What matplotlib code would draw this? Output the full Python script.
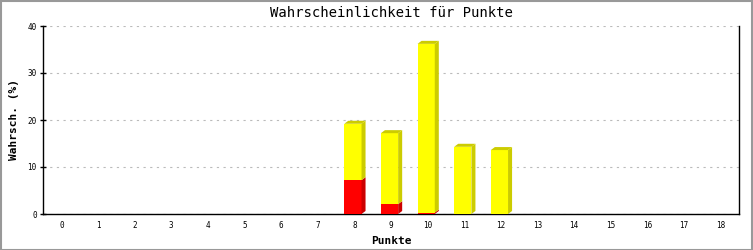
import matplotlib
matplotlib.use("Agg")
import matplotlib.pyplot as plt
from matplotlib.patches import Polygon, Rectangle

categories = list(range(19))
red_vals = [0, 0, 0, 0, 0, 0, 0, 0, 7.2, 2.1, 0.3, 0, 0, 0, 0, 0, 0, 0, 0]
yellow_vals = [0, 0, 0, 0, 0, 0, 0, 0, 12.0, 15.1, 35.9, 14.3, 13.6, 0, 0, 0, 0, 0, 0]
title = "Wahrscheinlichkeit für Punkte"
xlabel = "Punkte"
ylabel = "Wahrsch. (%)"

font = "DejaVu Sans Mono"
fig = plt.figure(figsize=(7.53, 2.50), dpi=100)
ax = fig.add_axes([43/753, 36/250, 696/753, 188/250])
ax.set_xlim(-0.5, 18.5)
ax.set_ylim(0, 40)

bw = 0.47
dx = 0.11
dy = 0.64
xoff = -0.04

def draw_seg(x, y0, h, front, side, top_face):
    if h <= 0:
        return
    l = x - bw/2 + xoff
    r = l + bw
    ax.add_patch(Rectangle((l, y0), bw, h, facecolor=front, edgecolor="none", zorder=3))
    ax.add_patch(Polygon([(r, y0), (r + dx, y0 + dy), (r + dx, y0 + h + dy), (r, y0 + h)],
                         closed=True, facecolor=side, edgecolor="none", zorder=3))
    if top_face:
        ax.add_patch(Polygon([(l, y0 + h), (l + dx, y0 + h + dy), (r + dx, y0 + h + dy), (r, y0 + h)],
                             closed=True, facecolor=side, edgecolor="none", zorder=3))

for c, rv, yv in zip(categories, red_vals, yellow_vals):
    draw_seg(c, 0, rv, "#ff0000", "#cc0000", yv <= 0)
    draw_seg(c, rv, yv, "#ffff00", "#cccc00", True)

ax.set_yticks([0, 10, 20, 30, 40])
ax.yaxis.grid(True, linestyle=(0, (2, 4)), color="#bbbbbb", linewidth=0.8)
ax.set_axisbelow(True)
ax.set_xticks(categories)
ax.set_xticklabels([str(c) for c in categories], fontsize=5.5, family=font)
ax.tick_params(axis="x", length=0, pad=5)
ax.tick_params(axis="y", length=5, direction="inout", width=1, pad=2)
for lab in ax.get_yticklabels():
    lab.set_fontsize(5.5)
    lab.set_family(font)
ax.spines["top"].set_visible(False)
for s in ["left", "right", "bottom"]:
    ax.spines[s].set_linewidth(1)
    ax.spines[s].set_color("black")

ax.set_xlabel(xlabel, fontsize=8, fontweight="bold", family=font, labelpad=4)
ax.set_ylabel(ylabel, fontsize=8, fontweight="bold", family=font, labelpad=6)
fig.text(391/753, 1 - 13/250, title, ha="center", va="center", fontsize=10, family=font)

fig.patches.append(Rectangle((0.5/753, 0.5/250), 1 - 1.5/753, 1 - 1.5/250, transform=fig.transFigure,
                             fill=False, edgecolor="#999999", linewidth=1.5))

fig.savefig("out.png", dpi=100)
